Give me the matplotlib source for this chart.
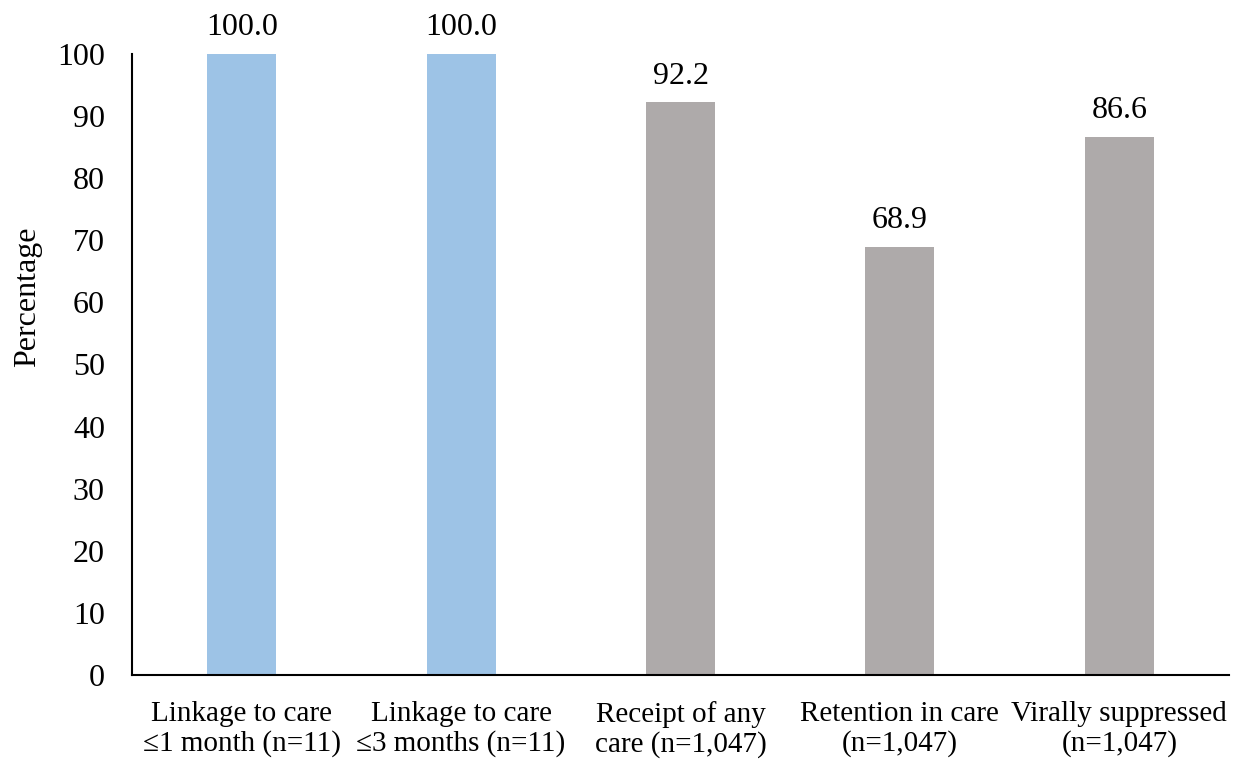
import matplotlib
matplotlib.use("Agg")
import matplotlib.pyplot as plt

categories = [
    "Linkage to care\n\u22641 month (n=11)",
    "Linkage to care\n\u22643 months (n=11)",
    "Receipt of any\ncare (n=1,047)",
    "Retention in care\n(n=1,047)",
    "Virally suppressed\n(n=1,047)",
]
values = [100.0, 100.0, 92.2, 68.9, 86.6]
bar_colors = ["#9DC3E6", "#9DC3E6", "#AEAAAA", "#AEAAAA", "#AEAAAA"]
yticks = [0, 10, 20, 30, 40, 50, 60, 70, 80, 90, 100]

plt.rcParams["font.family"] = ["Liberation Serif", "DejaVu Serif"]

fig = plt.figure(figsize=(12.38, 7.59), dpi=100)
ax = fig.add_axes([132 / 1238, 1 - 675 / 759, (1229 - 132) / 1238, (675 - 54) / 759])

x = list(range(len(categories)))
bars = ax.bar(x, values, width=0.315, color=bar_colors)

for b, v in zip(bars, values):
    ax.annotate(f"{v:.1f}", (b.get_x() + b.get_width() / 2, v),
                xytext=(0, 13.5), textcoords="offset points",
                ha="center", va="baseline", fontsize=23)

ax.set_xlim(-0.5, len(categories) - 0.5)
ax.set_ylim(0, 100)
ax.set_yticks(yticks)
ax.set_xticks(x)
ax.set_xticklabels(categories, fontsize=21, linespacing=1.12)
ax.tick_params(axis="y", labelsize=23, length=0, pad=19.5)
ax.tick_params(axis="x", length=0, pad=19)

ax.set_ylabel("Percentage", fontsize=23)
ax.yaxis.set_label_coords(-0.095, 0.609)
ax.yaxis.label.set_verticalalignment("center")

for s in ["top", "right"]:
    ax.spines[s].set_visible(False)
ax.spines["left"].set_linewidth(1.5)
ax.spines["bottom"].set_linewidth(1.5)

fig.savefig("out.png", dpi=100)
